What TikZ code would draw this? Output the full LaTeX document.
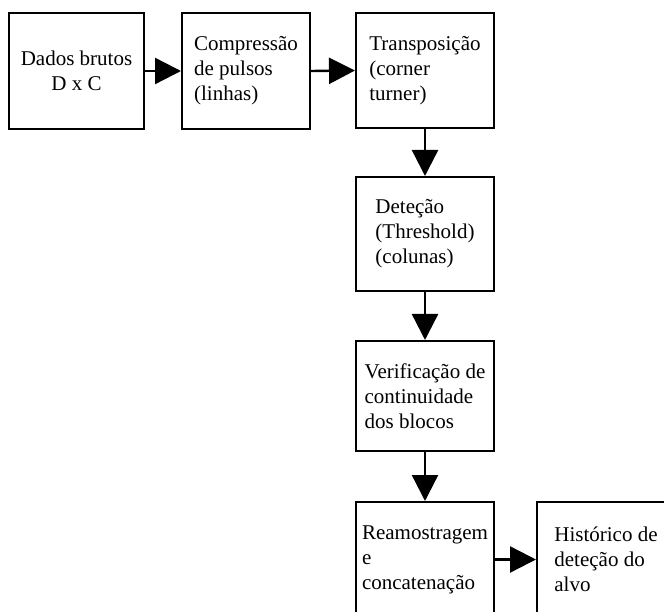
\documentclass[tikz,border=0pt]{standalone}
\usepackage{fontspec}
\setmainfont{Liberation Serif}
\usetikzlibrary{arrows.meta}
\begin{document}
\begin{tikzpicture}[x=1pt,y=-1pt,
  box/.style={draw=black, line width=2pt, fill=white, inner sep=0pt,
    font=\fontsize{21}{25}\selectfont, align=left},
  flow/.style={line width=2.4pt, -{Triangle[length=26pt,width=26pt]}}]
\useasboundingbox (0,0) rectangle (664,612);
\clip (0,0) rectangle (664,612);
\node[box, align=center, minimum width=135pt, minimum height=116pt] (b1) at (76.5,71) {Dados brutos\\D x C};
\node[box, minimum width=128pt, minimum height=116pt] (b2) at (246,71) {Compressão\\de pulsos\\(linhas)};
\node[box, minimum width=138pt, minimum height=115pt] (b3) at (425,70.5) {Transposição\\(corner\\turner)};
\node[box, minimum width=138pt, minimum height=114pt] (b4) at (425,234) {Deteção\\(Threshold)\\(colunas)};
\node[box, minimum width=138pt, minimum height=110pt] (b5) at (425,396) {Verificação de\\continuidade\\dos blocos};
\node[box, minimum width=138pt, minimum height=115pt] (b6) at (425,559.5) {Reamostragem\\e\\concatenação};
\node[box, minimum width=138pt, minimum height=115pt] (b7) at (606,559.5) {Histórico de\\deteção do\\alvo};
\draw[flow] (b1.east) -- (b2.west);
\draw[flow] (b2.east) -- (b3.west);
\draw[flow] (b3.south) -- (b4.north);
\draw[flow] (b4.south) -- (b5.north);
\draw[flow] (b5.south) -- (b6.north);
\draw[flow] (b6.east) -- (b7.west);
\end{tikzpicture}
\end{document}
